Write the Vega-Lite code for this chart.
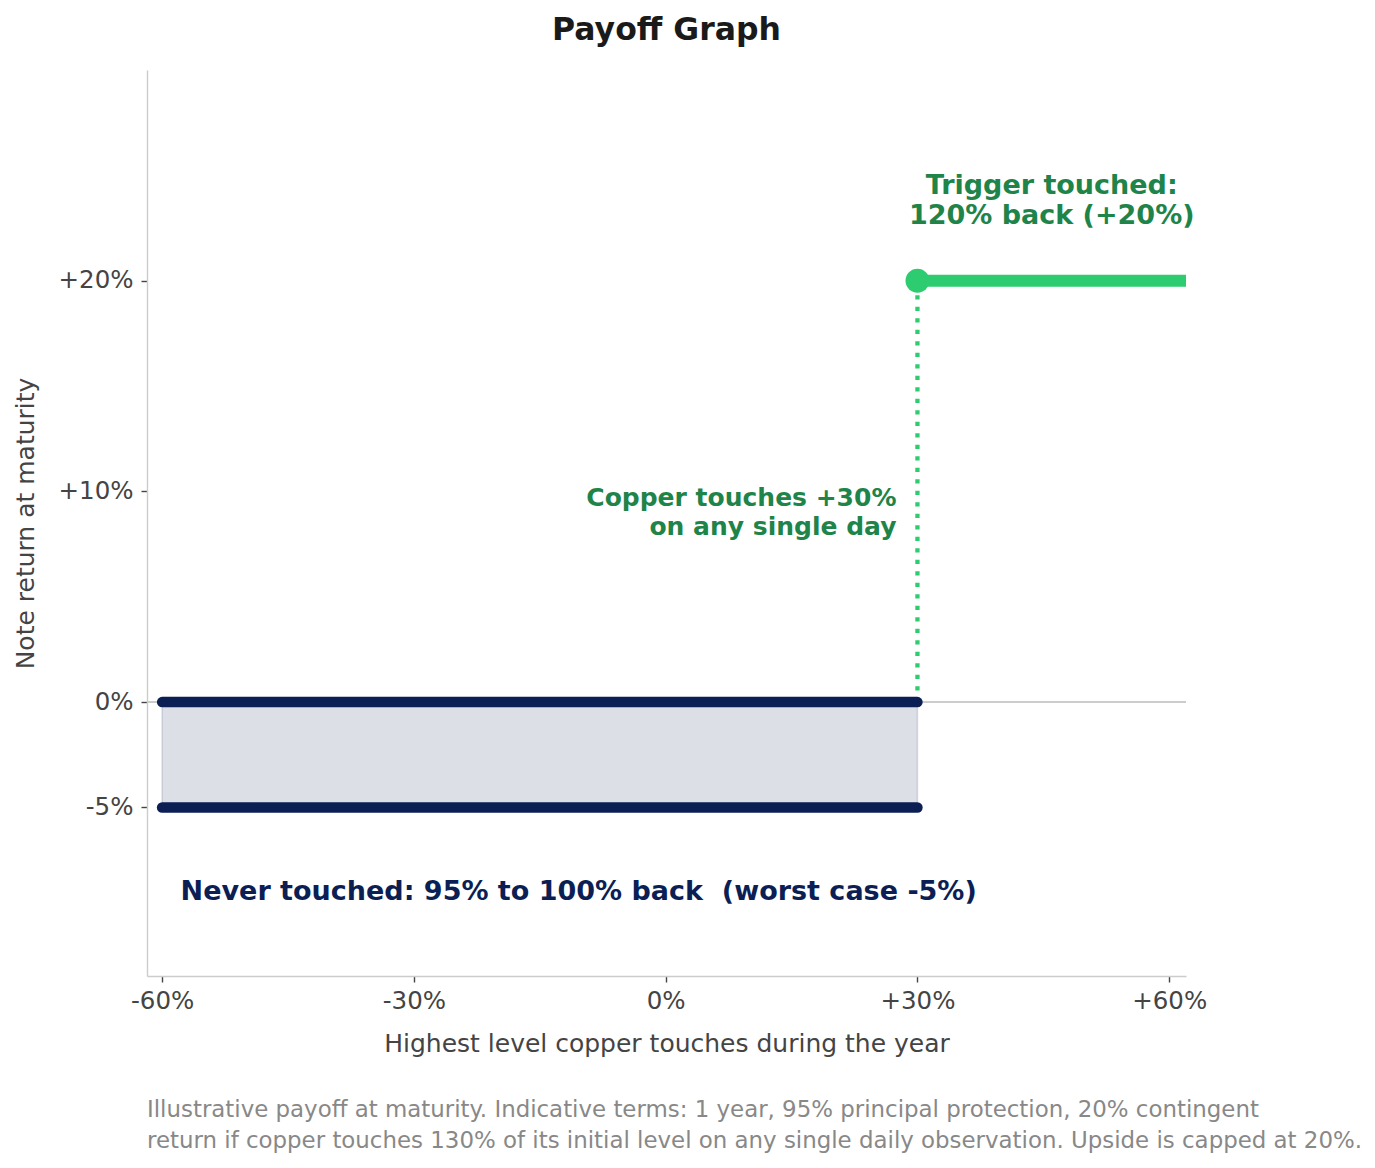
{
  "$schema": "https://vega.github.io/schema/vega-lite/v6.json",
  "width": 1039,
  "height": 906,
  "autosize": "none",
  "padding": {"left": 147, "top": 70, "right": 189, "bottom": 192},
  "background": "white",
  "title": {
    "text": "Payoff Graph",
    "fontSize": 31.5,
    "fontWeight": "bold",
    "color": "#1a1a1a",
    "font": "DejaVu Sans",
    "anchor": "middle",
    "offset": 24
  },
  "config": {
    "view": {"stroke": null},
    "font": "DejaVu Sans",
    "axis": {
      "grid": false,
      "domainColor": "#cccccc",
      "domainWidth": 1.4,
      "tickColor": "#444444",
      "tickSize": 6,
      "tickWidth": 1.4,
      "labelFont": "DejaVu Sans",
      "labelFontSize": 24.5,
      "labelColor": "#444444",
      "titleFont": "DejaVu Sans",
      "titleFontSize": 25,
      "titleFontWeight": "normal",
      "titleColor": "#444444"
    }
  },
  "encoding": {
    "x": {
      "field": "x",
      "type": "quantitative",
      "scale": {"domain": [-61.8, 62], "nice": false, "zero": false},
      "axis": {
        "values": [-60, -30, 0, 30, 60],
        "labelExpr": "(datum.value > 0 ? '+' : '') + datum.value + '%'",
        "labelPadding": 7,
        "title": "Highest level copper touches during the year",
        "titlePadding": 19
      }
    },
    "y": {
      "field": "y",
      "type": "quantitative",
      "scale": {"domain": [-13, 30], "nice": false, "zero": false},
      "axis": {
        "values": [-5, 0, 10, 20],
        "labelExpr": "(datum.value > 0 ? '+' : '') + datum.value + '%'",
        "labelPadding": 8,
        "title": "Note return at maturity",
        "titlePadding": 20
      }
    }
  },
  "layer": [
    {
      "data": {"values": [{"x": -61.8, "xe": 62, "y": 0}]},
      "mark": {"type": "rule", "color": "#cccccc", "strokeWidth": 2},
      "encoding": {"x2": {"field": "xe"}}
    },
    {
      "data": {"values": [{"x": -60, "xe": 30, "y": 0, "ye": -5}]},
      "mark": {
        "type": "rect",
        "fill": "#0b1f55",
        "fillOpacity": 0.14,
        "stroke": "#0b1f55",
        "strokeOpacity": 0.14,
        "strokeWidth": 1.5
      },
      "encoding": {"x2": {"field": "xe"}, "y2": {"field": "ye"}}
    },
    {
      "data": {"values": [{"x": 30, "y": 0, "ye": 20}]},
      "mark": {
        "type": "rule",
        "color": "#2ecc71",
        "strokeWidth": 4.3,
        "strokeDash": [4.3, 7.2]
      },
      "encoding": {"y2": {"field": "ye"}}
    },
    {
      "data": {"values": [
        {"x": -60, "xe": 30, "y": 0},
        {"x": -60, "xe": 30, "y": -5}
      ]},
      "mark": {"type": "rule", "color": "#0b1f55", "strokeWidth": 10.5, "strokeCap": "round"},
      "encoding": {"x2": {"field": "xe"}}
    },
    {
      "data": {"values": [{"x": 30, "xe": 62, "y": 20}]},
      "mark": {"type": "rule", "color": "#2ecc71", "strokeWidth": 12, "strokeCap": "butt"},
      "encoding": {"x2": {"field": "xe"}}
    },
    {
      "data": {"values": [{"x": 30, "y": 20}]},
      "mark": {"type": "point", "shape": "circle", "filled": true, "opacity": 1, "color": "#2ecc71", "size": 570}
    },
    {
      "data": {"values": [{"x": 46, "y": 24.5, "label": "Trigger touched:\n120% back (+20%)"}]},
      "mark": {
        "type": "text",
        "align": "center",
        "baseline": "middle",
        "lineBreak": "\n",
        "lineHeight": 30,
        "fontSize": 27,
        "fontWeight": "bold",
        "color": "#1e8449"
      },
      "encoding": {"text": {"field": "label"}}
    },
    {
      "data": {"values": [{"x": 27.5, "y": 9.68, "label": "Copper touches +30%\non any single day"}]},
      "mark": {
        "type": "text",
        "align": "right",
        "baseline": "middle",
        "lineBreak": "\n",
        "lineHeight": 29,
        "fontSize": 25,
        "fontWeight": "bold",
        "color": "#1e8449"
      },
      "encoding": {"text": {"field": "label"}}
    },
    {
      "data": {"values": [{"x": -57.8, "y": -9, "label": "Never touched: 95% to 100% back \u00a0(worst case -5%)"}]},
      "mark": {
        "type": "text",
        "align": "left",
        "baseline": "middle",
        "fontSize": 27,
        "fontWeight": "bold",
        "color": "#0b1f55"
      },
      "encoding": {"text": {"field": "label"}}
    },
    {
      "data": {"values": [{"x": -61.8, "y": -19.36, "label": "Illustrative payoff at maturity. Indicative terms: 1 year, 95% principal protection, 20% contingent\nreturn if copper touches 130% of its initial level on any single daily observation. Upside is capped at 20%."}]},
      "mark": {
        "type": "text",
        "align": "left",
        "baseline": "middle",
        "lineBreak": "\n",
        "lineHeight": 31,
        "fontSize": 22.9,
        "color": "#888888"
      },
      "encoding": {"text": {"field": "label"}}
    }
  ]
}
